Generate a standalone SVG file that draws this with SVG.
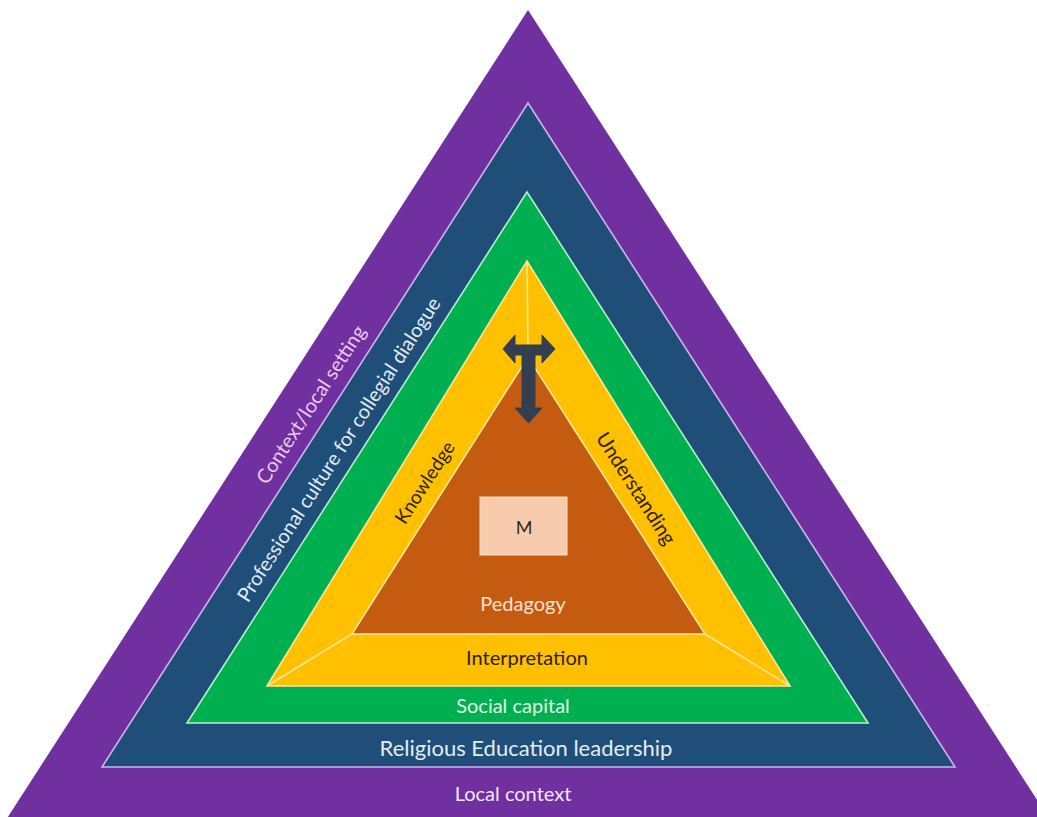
<svg xmlns="http://www.w3.org/2000/svg" width="1037" height="817" viewBox="0 0 1037 817">
<style>
text{font-family:"Lato","Open Sans","Liberation Sans",sans-serif;font-size:20px;text-anchor:middle;dominant-baseline:central}
.big{font-size:22px}
.sm{font-size:19px}
.m{font-size:18px}
.bevel{stroke:#ffe699;stroke-width:1.6;fill:none}
</style>
<rect width="1037" height="817" fill="#ffffff"/>
<g id="local-context">
<polygon points="528,10 4,823 1052,823" fill="#7030a0"/>
<text x="513" y="793" fill="#f2e8fb">Local context</text>
<text transform="translate(310,404) rotate(-57.2)" fill="#ecc9f2">Context/local setting</text>
</g>
<g id="re-leadership">
<polygon points="528,103 102,767 955,767" fill="#1f4e79" stroke="#cdb6ec" stroke-width="1.6"/>
<text class="big" x="526" y="747" fill="#e2ecf7">Religious Education leadership</text>
<text transform="translate(338,449) rotate(-57.2)" fill="#e2ecf7">Professional culture for collegial dialogue</text>
</g>
<g id="social-capital">
<polygon points="527,192 187,723 868,723" fill="#00b050" stroke="#b4f0cc" stroke-width="1.6"/>
<text x="513" y="705" fill="#e0f7e6">Social capital</text>
</g>
<g id="interpretation">
<polygon points="527,261 267,686 790,686" fill="#ffc000" stroke="#ffe699" stroke-width="1.6"/>
<line class="bevel" x1="527" y1="261" x2="528" y2="357"/>
<line class="bevel" x1="267" y1="686" x2="352" y2="634"/>
<line class="bevel" x1="790" y1="686" x2="705" y2="634"/>
<text x="527" y="657" fill="#2e2200">Interpretation</text>
<text class="sm" transform="translate(424,482) rotate(-57.2)" fill="#2e2200">Knowledge</text>
<text transform="translate(637,488) rotate(57.2)" fill="#2e2200">Understanding</text>
</g>
<g id="pedagogy">
<polygon points="528,357 352,634 705,634" fill="#c55a11" stroke="#ffe699" stroke-width="1.6"/>
<text x="523" y="603" fill="#fbe3cf">Pedagogy</text>
</g>
<g id="m-box">
<rect x="480" y="497" width="87" height="58" fill="#f8cbad" stroke="#fbe0cc" stroke-width="1"/>
<text class="m" x="524" y="527" fill="#2b2b2b">M</text>
</g>
<g id="connectors">
<path d="M503,349 L515,335 L515,345 L522,345 L535,345 L542,345 L542,335 L555,349 L542,363 L542,355 L535,355 L535,408 L542,408 L528.5,423 L515,408 L522,408 L522,355 L515,355 L515,363 Z" fill="#333f50" stroke="#333f50" stroke-width="1" stroke-linejoin="round"/>
</g>
</svg>
